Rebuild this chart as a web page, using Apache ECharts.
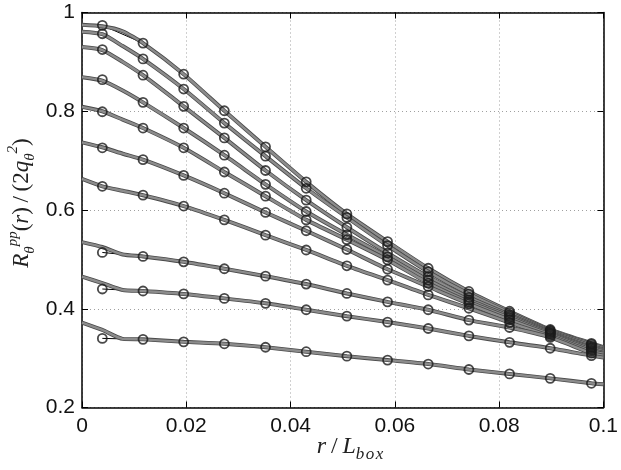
<!DOCTYPE html>
<html>
<head>
<meta charset="utf-8">
<script src="https://cdn.jsdelivr.net/npm/echarts@6/dist/echarts.min.js"></script>
<style>html,body{margin:0;padding:0;background:#fff}#c{width:621px;height:470px}</style>
</head>
<body>
<div id="c"></div>
<script>
// marker x positions (r / L_box)
var rValues = [0.0039, 0.0117, 0.0195, 0.0273, 0.0352, 0.043, 0.0508, 0.0586, 0.0664, 0.0742, 0.082, 0.0898, 0.0977];
// measured values, one array per curve (top to bottom)
var curve1 = [0.974, 0.938, 0.875, 0.801, 0.728, 0.657, 0.592, 0.536, 0.482, 0.435, 0.395, 0.358, 0.330];
var curve2 = [0.957, 0.906, 0.845, 0.776, 0.709, 0.644, 0.585, 0.528, 0.475, 0.430, 0.392, 0.356, 0.328];
var curve3 = [0.925, 0.873, 0.810, 0.746, 0.680, 0.620, 0.565, 0.513, 0.465, 0.423, 0.388, 0.354, 0.325];
var curve4 = [0.864, 0.818, 0.766, 0.711, 0.652, 0.597, 0.550, 0.505, 0.458, 0.418, 0.385, 0.352, 0.322];
var curve5 = [0.799, 0.766, 0.726, 0.677, 0.628, 0.580, 0.540, 0.499, 0.452, 0.414, 0.382, 0.350, 0.320];
var curve6 = [0.726, 0.702, 0.670, 0.634, 0.595, 0.558, 0.520, 0.480, 0.445, 0.410, 0.378, 0.348, 0.317];
var curve7 = [0.648, 0.630, 0.608, 0.580, 0.549, 0.519, 0.487, 0.458, 0.428, 0.401, 0.372, 0.345, 0.314];
var curve8 = [0.514, 0.506, 0.495, 0.481, 0.466, 0.450, 0.431, 0.414, 0.398, 0.377, 0.362, 0.342, 0.310];
var curve9 = [0.440, 0.436, 0.430, 0.421, 0.411, 0.398, 0.385, 0.373, 0.360, 0.345, 0.332, 0.320, 0.305];
var curve10 = [0.340, 0.338, 0.333, 0.329, 0.322, 0.313, 0.304, 0.296, 0.288, 0.277, 0.268, 0.259, 0.249];
var curves = [curve1, curve2, curve3, curve4, curve5, curve6, curve7, curve8, curve9, curve10];
// fitted curve values read at r = 0, r = 0.0039, r = 0.0078 and r = 0.1 (elsewhere it follows the markers)
var fitAt0 = [0.975, 0.961, 0.930, 0.869, 0.809, 0.737, 0.663, 0.535, 0.465, 0.372];
var fitAtFirst = [0.972, 0.956, 0.924, 0.862, 0.800, 0.727, 0.648, 0.525, 0.452, 0.357];
var fitAtMid = [0.962, 0.932, 0.900, 0.842, 0.783, 0.714, 0.639, 0.510, 0.438, 0.339];
var fitAtEnd = [0.322, 0.320, 0.318, 0.316, 0.314, 0.311, 0.309, 0.305, 0.301, 0.247];
var fitMidR = 0.0078;
var xTicks = [0, 0.02, 0.04, 0.06, 0.08, 0.1];
var yTicks = [0.2, 0.4, 0.6, 0.8, 1];

var chart = echarts.init(document.getElementById('c'), null, {renderer: 'canvas'});
var labelFont = {fontFamily: 'Liberation Sans', fontSize: 21, color: '#111'};
var series = [];
curves.forEach(function (c, i) {
  var pts = rValues.map(function (r, j) { return [r, c[j]]; });
  var fit = [[0, fitAt0[i]], [rValues[0], fitAtFirst[i]], [fitMidR, fitAtMid[i]]];
  for (var j = 1; j < rValues.length; j++) fit.push([rValues[j], c[j]]);
  fit.push([0.1, fitAtEnd[i]]);
  series.push({type: 'line', data: pts, showSymbol: false, silent: true, z: 2,
    lineStyle: {color: '#000', width: 1}});
  series.push({type: 'line', data: fit, smooth: 0.2, showSymbol: false, silent: true, z: 3,
    lineStyle: {color: '#4a4a4a', width: 4}});
  series.push({type: 'line', data: fit, smooth: 0.2, showSymbol: false, silent: true, z: 3,
    lineStyle: {color: '#8c8c8c', width: 2.4}});
  series.push({type: 'scatter', data: pts, symbol: 'circle', symbolSize: 9, silent: true, z: 5,
    itemStyle: {color: 'rgba(255,255,255,0)', borderColor: '#1a1a1a', borderWidth: 1.8}});
});

function fmtX(v) { return Math.abs(v) < 1e-9 ? '0' : String(+v.toFixed(2)); }
function fmtY(v) { return Math.abs(v - 1) < 1e-9 ? '1' : v.toFixed(1); }

var option = {
  animation: false,
  backgroundColor: '#fff',
  grid: {left: 82, right: 14, top: 12.5, bottom: 62.5, containLabel: false},
  xAxis: [{
    type: 'value', min: xTicks[0], max: xTicks[xTicks.length - 1], interval: 0.02, position: 'bottom',
    axisLine: {show: true, onZero: false, lineStyle: {color: '#000', width: 1.5}},
    axisTick: {show: true, inside: true, length: 6, lineStyle: {color: '#000', width: 1}},
    axisLabel: Object.assign({formatter: fmtX, margin: 8}, labelFont),
    splitLine: {show: true, lineStyle: {color: '#a0a0a0', type: [1, 3], width: 1}}
  }, {
    type: 'value', min: xTicks[0], max: xTicks[xTicks.length - 1], interval: 0.02, position: 'top',
    axisLine: {show: true, onZero: false, lineStyle: {color: '#000', width: 1.5}},
    axisTick: {show: true, inside: true, length: 6, lineStyle: {color: '#000', width: 1}},
    axisLabel: {show: false}, splitLine: {show: false}
  }],
  yAxis: [{
    type: 'value', min: yTicks[0], max: yTicks[yTicks.length - 1], interval: 0.2, position: 'left',
    axisLine: {show: true, onZero: false, lineStyle: {color: '#000', width: 1.5}},
    axisTick: {show: true, inside: true, length: 6, lineStyle: {color: '#000', width: 1}},
    axisLabel: Object.assign({formatter: fmtY, margin: 7}, labelFont),
    splitLine: {show: true, lineStyle: {color: '#a0a0a0', type: [1, 3], width: 1}}
  }, {
    type: 'value', min: yTicks[0], max: yTicks[yTicks.length - 1], interval: 0.2, position: 'right',
    axisLine: {show: true, onZero: false, lineStyle: {color: '#000', width: 1.5}},
    axisTick: {show: true, inside: true, length: 6, lineStyle: {color: '#000', width: 1}},
    axisLabel: {show: false}, splitLine: {show: false}
  }],
  graphic: [{
    type: 'text', x: 350, y: 447, silent: true,
    style: {
      text: '{i|r}{n|\u2009/\u2009}{i|L}{sub|b\u200ao\u200ax}', textAlign: 'center', textVerticalAlign: 'middle', fill: '#222',
      rich: {
        i: {fontFamily: 'Liberation Serif', fontStyle: 'italic', fontSize: 24, lineHeight: 32, verticalAlign: 'middle', fill: '#222'},
        n: {fontFamily: 'Liberation Serif', fontSize: 24, lineHeight: 32, verticalAlign: 'middle', fill: '#222'},
        sub: {fontFamily: 'Liberation Serif', fontStyle: 'italic', fontSize: 17, lineHeight: 32, verticalAlign: 'bottom', fill: '#222'}
      }
    }
  }, {
    type: 'text', x: 22, y: 203, rotation: Math.PI / 2, silent: true,
    style: {
      text: '{i|R}{sub|θ}{sup|pp}{n|(}{i|r}{n|)\u2009/\u2009(2}{i|q}{sub|θ}{sup|2}{n|)}', textAlign: 'center', textVerticalAlign: 'middle', fill: '#222',
      rich: {
        i: {fontFamily: 'Liberation Serif', fontStyle: 'italic', fontSize: 23, lineHeight: 32, verticalAlign: 'middle', fill: '#222'},
        n: {fontFamily: 'Liberation Serif', fontSize: 23, lineHeight: 32, verticalAlign: 'middle', fill: '#222'},
        sub: {fontFamily: 'Liberation Serif', fontStyle: 'italic', fontSize: 15, lineHeight: 32, verticalAlign: 'bottom', fill: '#222'},
        sup: {fontFamily: 'Liberation Serif', fontStyle: 'italic', fontSize: 15, lineHeight: 32, verticalAlign: 'top', fill: '#222'}
      }
    }
  }],
  series: series
};
chart.setOption(option);
</script>
</body>
</html>
